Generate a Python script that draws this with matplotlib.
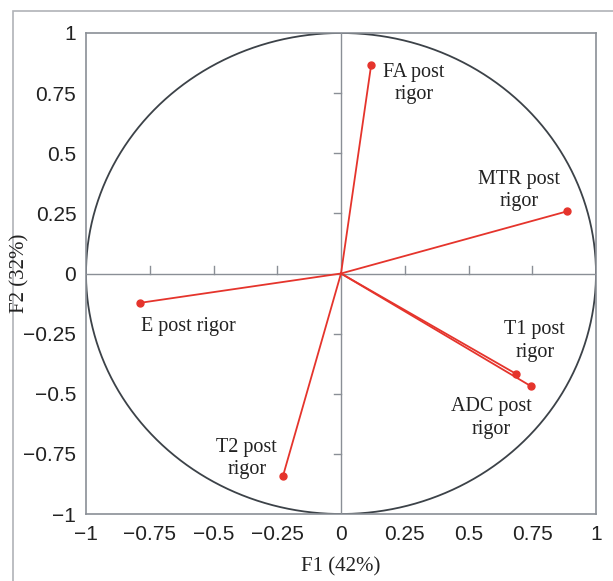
import numpy as np
import matplotlib as mpl
import matplotlib.pyplot as plt
from matplotlib.patches import Rectangle

mpl.rcParams['font.family'] = 'Liberation Sans'

# variable loadings on F1 / F2
variables = ['FA post\nrigor', 'MTR post\nrigor', 'E post rigor', 'T2 post\nrigor',
             'T1 post\nrigor', 'ADC post\nrigor']
f1 = [0.118, 0.885, -0.788, -0.227, 0.686, 0.744]
f2 = [0.865, 0.258, -0.122, -0.840, -0.417, -0.468]
label_x = [0.285, 0.70, -0.60, -0.37, 0.76, 0.59]
label_y = [0.79, 0.345, -0.22, -0.77, -0.28, -0.60]
ticks = [-1, -0.75, -0.5, -0.25, 0, 0.25, 0.5, 0.75, 1]
tick_labels = ['\u22121', '\u22120.75', '\u22120.5', '\u22120.25', '0',
               '0.25', '0.5', '0.75', '1']

fig = plt.figure(figsize=(6.13, 5.81), dpi=100)
ax = fig.add_axes([86 / 613, 1 - 514 / 581, 510 / 613, 481 / 581])

# outer frame around the figure
fig.patches.append(Rectangle((13 / 613, -0.1), 1.1, 0.1 + 1 - 11 / 581,
                             transform=fig.transFigure, fill=False,
                             edgecolor='#b0b3b8', linewidth=1.2))

grey = '#8a8f96'
for s in ax.spines.values():
    s.set_color(grey)
    s.set_linewidth(1.2)

t = np.linspace(0, 2 * np.pi, 400)
ax.plot(np.cos(t), np.sin(t), color='#3c4248', linewidth=1.3)
ax.axhline(0, color=grey, linewidth=1.0)
ax.axvline(0, color=grey, linewidth=1.0)

# small ticks on the zero axes
for v in [-0.75, -0.5, -0.25, 0.25, 0.5, 0.75]:
    ax.plot([v, v], [-0.0, 0.03], color=grey, linewidth=1.0)
    ax.plot([-0.028, 0], [v, v], color=grey, linewidth=1.0)

red = '#e5342c'
for x, y in zip(f1, f2):
    ax.plot([0, x], [0, y], color=red, linewidth=1.3)
    ax.plot(x, y, 'o', color=red, markersize=5)

for name, lx, ly in zip(variables, label_x, label_y):
    ax.text(lx, ly, name, ha='center', va='center', fontsize=14.5,
            family='Liberation Serif', color='#222222', linespacing=1.25)

ax.set_xlim(-1, 1)
ax.set_ylim(-1, 1)
ax.set_xticks(ticks)
ax.set_yticks(ticks)
ax.set_xticklabels(tick_labels)
ax.set_yticklabels(tick_labels)
ax.tick_params(length=0, labelsize=15, colors='#222222')
ax.tick_params(axis='x', pad=8)
ax.tick_params(axis='y', pad=7)

fig.text(341 / 613, 1 - 567 / 581, 'F1 (42%)', ha='center', va='center',
         fontsize=15, family='Liberation Serif', color='#222222')
fig.text(20 / 613, 1 - 273 / 581, 'F2 (32%)', ha='center', va='center',
         rotation=90, fontsize=15, family='Liberation Serif', color='#222222')

fig.savefig('out.png', dpi=100)
